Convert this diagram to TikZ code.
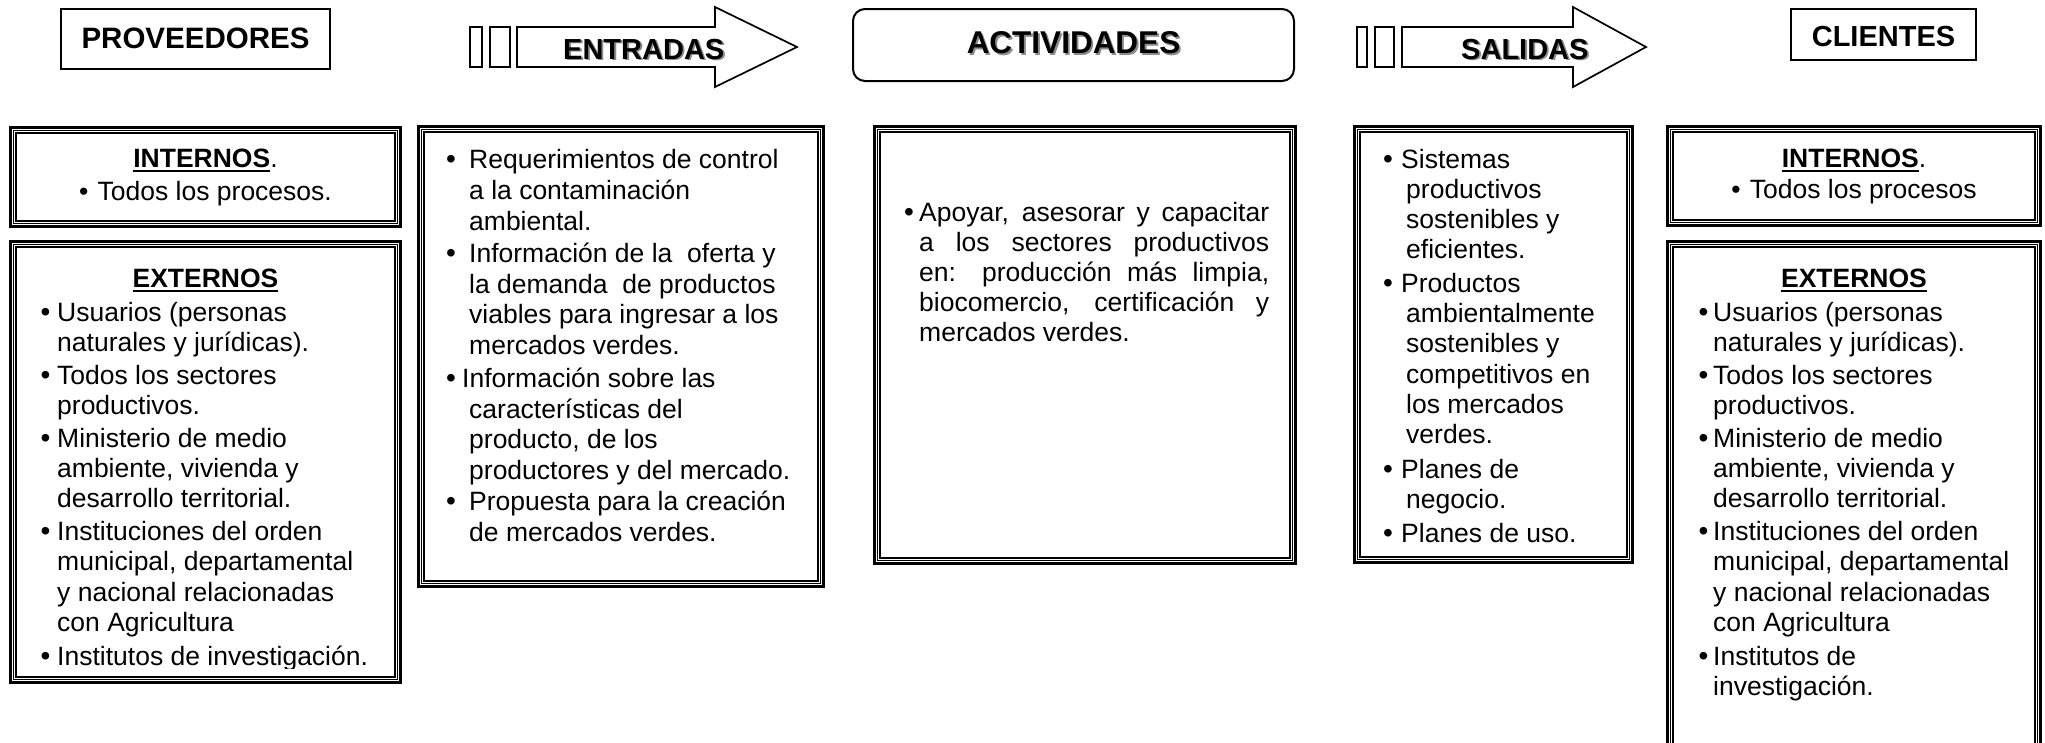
\documentclass[tikz,border=0pt]{standalone}
\usepackage{fontspec}
\setmainfont{Liberation Sans}
\usepackage{graphicx}
\newsavebox\ulbox
\newcommand\thickul[1]{\sbox\ulbox{#1}\rlap{\rule[-4.8pt]{\wd\ulbox}{2pt}}\usebox\ulbox}
\newcounter{lnc}
\newcommand\Lline[3]{\stepcounter{lnc}\node[txt,anchor=base west] (l\arabic{lnc}) at (#1,#2) {#3};}
\newcommand\Cline[3]{\stepcounter{lnc}\node[txt,anchor=base] (c\arabic{lnc}) at (#1,#2) {#3};}
\newcommand\Bul[2]{\stepcounter{lnc}\node[bul,anchor=base] (b\arabic{lnc}) at (#1,#2) {•};}
\newcommand\tribox[4]{%
 \draw[line width=2.6pt] (#1+1.3,#2+1.3) rectangle (#3-1.3,#4-1.3);
 \draw[line width=0.9pt] (#1+4.6,#2+4.6) rectangle (#3-4.6,#4-4.6);
 \draw[line width=2.2pt] (#1+7.3,#2+7.3) rectangle (#3-7.3,#4-7.3);}
\newcommand\tricup[4]{%
 \draw[line width=2.6pt] (#1+1.3,#4) -- (#1+1.3,#2+1.3) -- (#3-1.3,#2+1.3) -- (#3-1.3,#4);
 \draw[line width=0.9pt] (#1+4.6,#4) -- (#1+4.6,#2+4.6) -- (#3-4.6,#2+4.6) -- (#3-4.6,#4);
 \draw[line width=2.2pt] (#1+7.3,#4) -- (#1+7.3,#2+7.3) -- (#3-7.3,#2+7.3) -- (#3-7.3,#4);}
\tikzset{
 txt/.style={inner sep=0pt, font=\fontsize{26.5}{30}\selectfont},
 bul/.style={inner sep=0pt, font=\fontsize{28}{30}\selectfont},
 hd/.style={inner sep=0pt, font=\fontsize{26.5}{30}\selectfont\bfseries},
 big/.style={inner sep=0pt, font=\fontsize{29}{33}\selectfont\bfseries},
 shadow/.style={text=black!45},
 frame/.style={draw, line width=2pt},
 arr/.style={draw, line width=1.7pt, line join=miter},
}
\begin{document}
\begin{tikzpicture}[x=1pt,y=-1pt]
\useasboundingbox (0,0) rectangle (2045,742);
\fill[white] (0,0) rectangle (2045,742);

% ---------- top row ----------
\draw[frame] (61,9) rectangle (330,69);
\node[big,font=\fontsize{29.5}{33}\selectfont\bfseries,anchor=base] (prov) at (195.5,48) {PROVEEDORES};

\draw[arr] (470,27) rectangle (482,67);
\draw[arr] (490,27) rectangle (510,67);
\draw[arr] (517,27) -- (715,27) -- (715,7) -- (797,47) -- (715,87) -- (715,67) -- (517,67) -- cycle;
\node[big,shadow,anchor=base west] (entS) at (564.8,60.8) {ENTRADAS};
\node[big,anchor=base west] (ent) at (563,59) {ENTRADAS};

\draw[frame, rounded corners=12pt] (853,9) rectangle (1294,81);
\node[big,font=\fontsize{31.5}{35}\selectfont\bfseries,shadow,anchor=base] (actS) at (1075.3,55.3) {ACTIVIDADES};
\node[big,font=\fontsize{31.5}{35}\selectfont\bfseries,anchor=base] (act) at (1073.5,53.5) {ACTIVIDADES};

\draw[arr] (1357,27) rectangle (1367,67);
\draw[arr] (1375,27) rectangle (1394,67);
\draw[arr] (1402,27) -- (1573,27) -- (1573,7) -- (1646,47) -- (1573,87) -- (1573,67) -- (1402,67) -- cycle;
\node[big,shadow,anchor=base west] (salS) at (1462.8,60.8) {SALIDAS};
\node[big,anchor=base west] (sal) at (1461,59) {SALIDAS};

\draw[frame] (1791,9) rectangle (1976,60);
\node[big,anchor=base] (cli) at (1883.5,46) {CLIENTES};

% ---------- boxes ----------
\tribox{9}{126}{402}{228}
\tribox{9}{240}{402}{684}
\tribox{417}{125}{825}{588}
\tribox{873}{125}{1297}{565}
\tribox{1353}{125}{1634}{564}
\tribox{1666}{125}{2042}{227}
\tricup{1666}{240}{2042}{760}

% ---------- proveedores ----------
\node[hd,anchor=base] (pin) at (205.5,167) {\thickul{INTERNOS}\mdseries.};
\Cline{205.5}{200}{•\hspace{0.35em}Todos los procesos.}
\node[hd,anchor=base] (pex) at (205.5,287) {\thickul{EXTERNOS}};
\begin{scope}
\clip (17,250) rectangle (394,668.5);
\Bul{45.5}{321}\Lline{57}{321}{Usuarios (personas}
\Lline{57}{351}{naturales y jurídicas).}
\Bul{45.5}{384}\Lline{57}{384}{Todos los sectores}
\Lline{57}{414}{productivos.}
\Bul{45.5}{447}\Lline{57}{447}{Ministerio de medio}
\Lline{57}{477}{ambiente, vivienda y}
\Lline{57}{507}{desarrollo territorial.}
\Bul{45.5}{540}\Lline{57}{540}{Instituciones del orden}
\Lline{57}{570}{municipal, departamental}
\Lline{57}{601}{y nacional relacionadas}
\Lline{57}{631}{con Agricultura}
\Bul{45.5}{665}\Lline{57}{665}{Institutos de investigación.}
\end{scope}

% ---------- entradas ----------
\Bul{451}{168}\Lline{469}{168}{Requerimientos de control}
\Lline{469}{199}{a la contaminación}
\Lline{469}{230}{ambiental.}
\Bul{451}{262}\Lline{469}{262}{Información de la\ \ oferta y}
\Lline{469}{293}{la demanda\ \ de productos}
\Lline{469}{323}{viables para ingresar a los}
\Lline{469}{354}{mercados verdes.}
\Bul{451}{387}\Lline{462}{387}{Información sobre las}
\Lline{469}{418}{características del}
\Lline{469}{448}{producto, de los}
\Lline{469}{479}{productores y del mercado.}
\Bul{451}{510}\Lline{469}{510}{Propuesta para la creación}
\Lline{469}{541}{de mercados verdes.}

% ---------- actividades ----------
\Bul{909}{221}\Lline{919}{221}{\makebox[350pt][s]{Apoyar, asesorar y capacitar}}
\Lline{919}{251}{\makebox[350pt][s]{a los sectores productivos}}
\Lline{919}{281}{\makebox[350pt][s]{en: producción más limpia,}}
\Lline{919}{311}{\makebox[350pt][s]{biocomercio, certificación y}}
\Lline{919}{341}{mercados verdes.}

% ---------- salidas ----------
\Bul{1388}{168}\Lline{1401}{168}{Sistemas}
\Lline{1406}{198}{productivos}
\Lline{1406}{228}{sostenibles y}
\Lline{1406}{258}{eficientes.}
\Bul{1388}{292}\Lline{1401}{292}{Productos}
\Lline{1406}{322}{ambientalmente}
\Lline{1406}{352}{sostenibles y}
\Lline{1406}{383}{competitivos en}
\Lline{1406}{413}{los mercados}
\Lline{1406}{443}{verdes.}
\Bul{1388}{478}\Lline{1401}{478}{Planes de}
\Lline{1406}{508}{negocio.}
\Bul{1388}{542}\Lline{1401}{542}{Planes de uso.}

% ---------- clientes ----------
\node[hd,anchor=base] (cin) at (1854,167) {\thickul{INTERNOS}\mdseries.};
\Cline{1854}{198}{•\hspace{0.35em}Todos los procesos}
\node[hd,anchor=base] (cex) at (1854,287) {\thickul{EXTERNOS}};
\Bul{1703.5}{321}\Lline{1713}{321}{Usuarios (personas}
\Lline{1713}{351}{naturales y jurídicas).}
\Bul{1703.5}{384}\Lline{1713}{384}{Todos los sectores}
\Lline{1713}{414}{productivos.}
\Bul{1703.5}{447}\Lline{1713}{447}{Ministerio de medio}
\Lline{1713}{477}{ambiente, vivienda y}
\Lline{1713}{507}{desarrollo territorial.}
\Bul{1703.5}{540}\Lline{1713}{540}{Instituciones del orden}
\Lline{1713}{570}{municipal, departamental}
\Lline{1713}{601}{y nacional relacionadas}
\Lline{1713}{631}{con Agricultura}
\Bul{1703.5}{665}\Lline{1713}{665}{Institutos de}
\Lline{1713}{695}{investigación.}
\end{tikzpicture}
\end{document}
